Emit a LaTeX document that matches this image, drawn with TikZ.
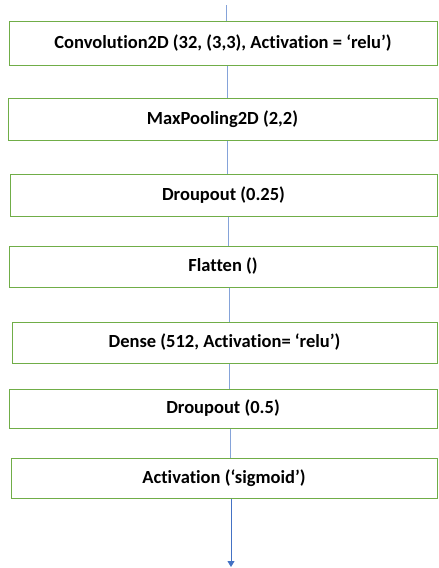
\documentclass[tikz,border=0pt]{standalone}
\usepackage{fontspec}
\setmainfont{Carlito}[Ligatures={NoCommon}]
\usetikzlibrary{arrows.meta}
\definecolor{boxgreen}{RGB}{112,173,71}
\definecolor{lineblue}{RGB}{68,114,196}
\begin{document}
\begin{tikzpicture}[x=1pt,y=-1pt,
  layer/.style={draw=boxgreen,line width=1pt,fill=white,inner sep=0pt,font=\bfseries\fontsize{18.5}{20}\selectfont},
  conn/.style={draw=lineblue!65,line width=1pt}]
\useasboundingbox (0,0) rectangle (439,568);
\fill[white] (0,0) rectangle (439,568);
\newcommand{\layerbox}[5]{%
  \node[layer,minimum width={437-#2},minimum height={#4-#3}] (#1) at ({(#2+437)/2},{(#3+#4)/2}) {#5};}
\layerbox{b1}{9}{21}{65}{Convolution2D (32, (3,3), Activation = ‘relu’)}
\layerbox{b2}{8}{98}{140}{MaxPooling2D (2,2)}
\layerbox{b3}{10}{174}{216}{Droupout (0.25)}
\layerbox{b4}{9}{246}{287}{Flatten ()}
\layerbox{b5}{12}{322}{363}{Dense (512, Activation= ‘relu’)}
\layerbox{b6}{9}{389}{428}{Droupout (0.5)}
\layerbox{b7}{11}{458}{498}{Activation (‘sigmoid’)}
\coordinate (in) at (226,5);
\coordinate (out) at (231,567);
\draw[conn] (in) -- (b1.north -| in);
\draw[conn] (b1.south -| 227,0) -- (b2.north -| 227,0);
\draw[conn] (b2.south -| 227,0) -- (b3.north -| 227,0);
\draw[conn] (b3.south -| 228,0) -- (b4.north -| 228,0);
\draw[conn] (b4.south -| 229,0) -- (b5.north -| 229,0);
\draw[conn] (b5.south -| 229,0) -- (b6.north -| 229,0);
\draw[conn] (b6.south -| 230,0) -- (b7.north -| 230,0);
\draw[conn,draw=lineblue,-{Triangle[width=7pt,length=6pt]}] (b7.south -| out) -- (out);
\end{tikzpicture}
\end{document}
